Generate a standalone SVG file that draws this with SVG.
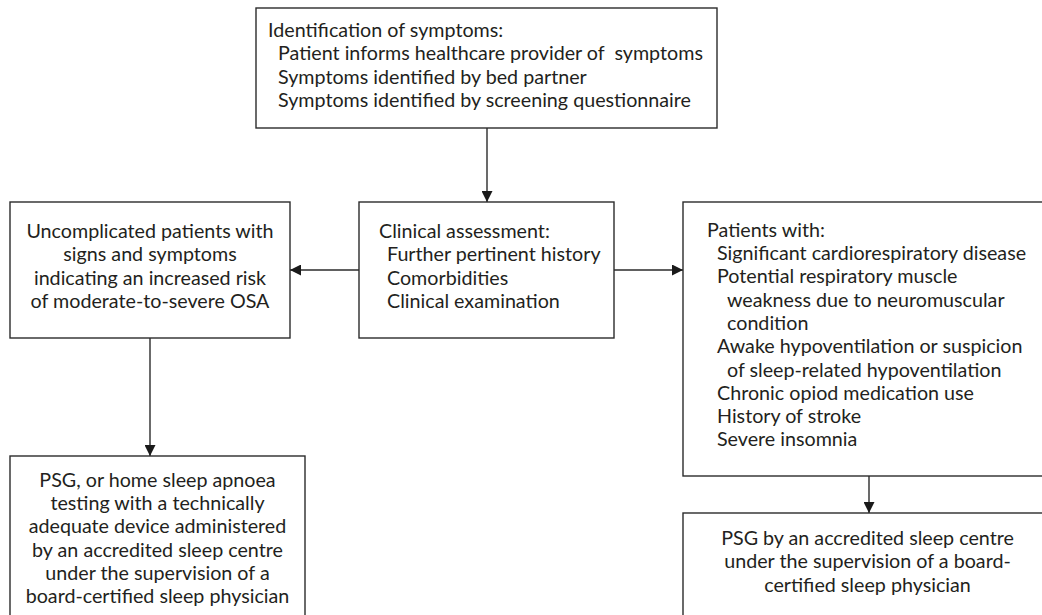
<svg xmlns="http://www.w3.org/2000/svg" width="1042" height="615" viewBox="0 0 1042 615">
<style>
.box{fill:#fff;stroke:#2b2b2b;stroke-width:1.4}
.t{font-family:Lato,"Open Sans","Liberation Sans",sans-serif;font-size:19.7px;fill:#231f20}
.c{text-anchor:middle}
.ln{stroke:#2b2b2b;stroke-width:1.4;fill:none}
</style>
<defs>
<marker id="ah" viewBox="0 0 11 11" refX="11" refY="5.5" markerWidth="11" markerHeight="11" markerUnits="userSpaceOnUse" orient="auto">
<path d="M0,0 L11,5.5 L0,11 Z" fill="#1a1a1a"/>
</marker>
</defs>
<rect width="1042" height="615" fill="#fff"/>
<g id="connectors">
<line class="ln" x1="487" y1="128" x2="487" y2="202" marker-end="url(#ah)"/>
<line class="ln" x1="359" y1="270" x2="290" y2="270" marker-end="url(#ah)"/>
<line class="ln" x1="614" y1="270" x2="683" y2="270" marker-end="url(#ah)"/>
<line class="ln" x1="150" y1="338" x2="150" y2="456" marker-end="url(#ah)"/>
<line class="ln" x1="869" y1="476" x2="869" y2="513" marker-end="url(#ah)"/>
</g>
<g id="identification">
<rect class="box" x="256" y="8" width="461" height="120"/>
<text class="t" x="268" y="37">Identification of symptoms:</text>
<text class="t" x="278" y="60.3" xml:space="preserve">Patient informs healthcare provider of  symptoms</text>
<text class="t" x="278" y="83.6">Symptoms identified by bed partner</text>
<text class="t" x="278" y="107">Symptoms identified by screening questionnaire</text>
</g>
<g id="uncomplicated">
<rect class="box" x="10" y="202" width="280" height="136"/>
<text class="t c" x="150" y="238">Uncomplicated patients with</text>
<text class="t c" x="150" y="261.3">signs and symptoms</text>
<text class="t c" x="150" y="284.6">indicating an increased risk</text>
<text class="t c" x="150" y="308">of moderate-to-severe OSA</text>
</g>
<g id="clinical">
<rect class="box" x="359" y="202" width="255" height="136"/>
<text class="t" x="379" y="238">Clinical assessment:</text>
<text class="t" x="387" y="261.3">Further pertinent history</text>
<text class="t" x="387" y="284.6">Comorbidities</text>
<text class="t" x="387" y="308">Clinical examination</text>
</g>
<g id="patients">
<rect class="box" x="683" y="202" width="380" height="274"/>
<text class="t" x="707" y="236.7">Patients with:</text>
<text class="t" x="717" y="260">Significant cardiorespiratory disease</text>
<text class="t" x="717" y="283.3">Potential respiratory muscle</text>
<text class="t" x="727" y="306.6">weakness due to neuromuscular</text>
<text class="t" x="727" y="329.9">condition</text>
<text class="t" x="717" y="353.2">Awake hypoventilation or suspicion</text>
<text class="t" x="727" y="376.5">of sleep-related hypoventilation</text>
<text class="t" x="717" y="399.8">Chronic opiod medication use</text>
<text class="t" x="717" y="423.1">History of stroke</text>
<text class="t" x="717" y="446.4">Severe insomnia</text>
</g>
<g id="psg-home">
<rect class="box" x="10" y="456" width="295" height="180"/>
<text class="t c" x="157.5" y="486.7">PSG, or home sleep apnoea</text>
<text class="t c" x="157.5" y="510">testing with a technically</text>
<text class="t c" x="157.5" y="533.3">adequate device administered</text>
<text class="t c" x="157.5" y="556.6">by an accredited sleep centre</text>
<text class="t c" x="157.5" y="579.9">under the supervision of a</text>
<text class="t c" x="157.5" y="603.2">board-certified sleep physician</text>
</g>
<g id="psg-centre">
<rect class="box" x="683" y="513" width="380" height="120"/>
<text class="t c" x="867.5" y="545">PSG by an accredited sleep centre</text>
<text class="t c" x="867.5" y="568.3">under the supervision of a board-</text>
<text class="t c" x="867.5" y="591.6">certified sleep physician</text>
</g>
</svg>
